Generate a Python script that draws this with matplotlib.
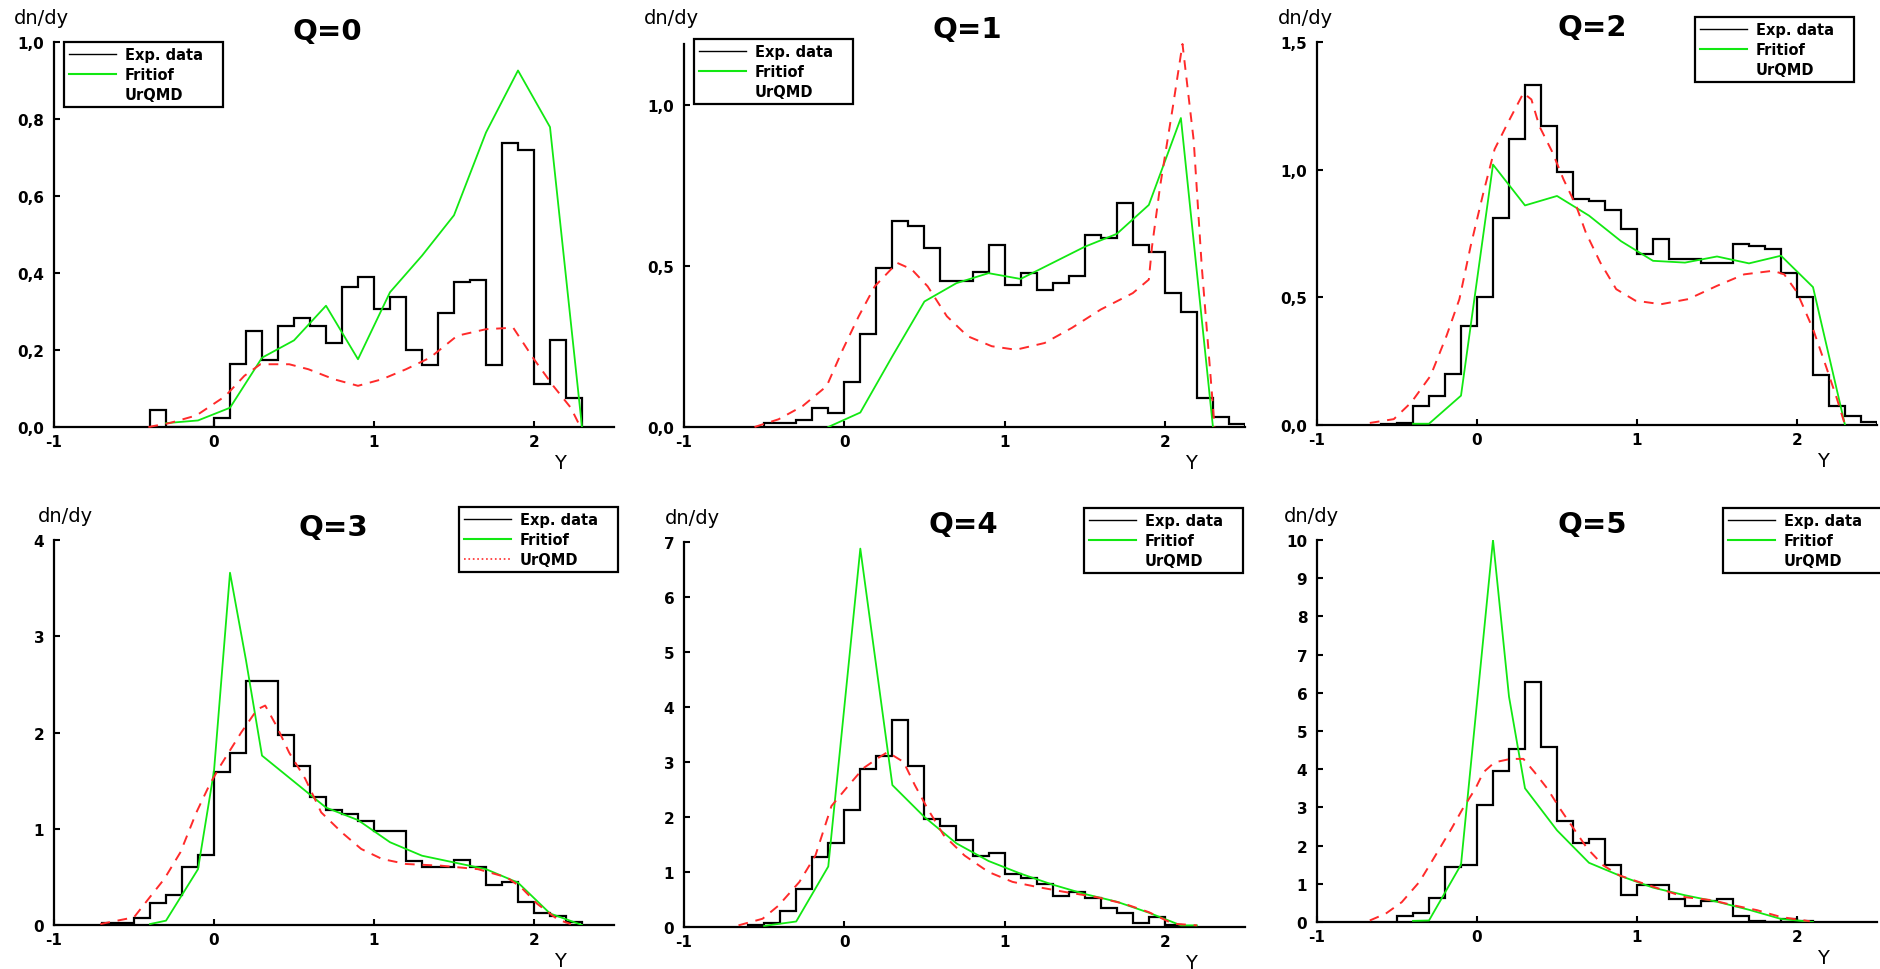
import matplotlib
matplotlib.use('Agg')
import matplotlib.pyplot as plt
from matplotlib.lines import Line2D
from matplotlib.ticker import FuncFormatter
import numpy as np

plt.rcParams['font.family'] = 'DejaVu Sans'
plt.rcParams['axes.unicode_minus'] = False

# ---- values ----
titles = ['Q=0', 'Q=1', 'Q=2', 'Q=3', 'Q=4', 'Q=5']
y_max = [1.0, 1.19, 1.5, 4, 7, 10]
y_ticks = [[0, 0.2, 0.4, 0.6, 0.8, 1.0], [0, 0.5, 1.0], [0, 0.5, 1.0, 1.5],
           [0, 1, 2, 3, 4], [0, 1, 2, 3, 4, 5, 6, 7], [0, 1, 2, 3, 4, 5, 6, 7, 8, 9, 10]]
y_decimals = [1, 1, 1, 0, 0, 0]
x_ticks = [-1, 0, 1, 2]
series_names = ['Exp. data', 'Fritiof', 'UrQMD']

# experimental histograms, bins of 0.1 starting at exp_start
bin_width = 0.1
exp_start = [-0.4, -0.5, -0.6, -0.7, -0.6, -0.5]
exp_q0 = [0.044, 0, 0, 0, 0.024, 0.163, 0.25, 0.174, 0.263, 0.282, 0.263, 0.219, 0.363, 0.389,
          0.306, 0.338, 0.2, 0.161, 0.295, 0.376, 0.382, 0.161, 0.738, 0.72, 0.111, 0.225, 0.076]
exp_q1 = [0.011, 0.011, 0.022, 0.06, 0.044, 0.14, 0.29, 0.494, 0.64, 0.625, 0.556, 0.455, 0.455,
          0.483, 0.566, 0.44, 0.478, 0.425, 0.447, 0.47, 0.597, 0.587, 0.695, 0.566, 0.545, 0.416,
          0.356, 0.089, 0.032, 0.008]
exp_q2 = [0.005, 0.008, 0.076, 0.115, 0.2, 0.389, 0.5, 0.81, 1.12, 1.33, 1.17, 0.99, 0.887, 0.878,
          0.843, 0.767, 0.669, 0.728, 0.652, 0.652, 0.633, 0.633, 0.708, 0.70, 0.69, 0.595, 0.503,
          0.196, 0.076, 0.034, 0.013]
exp_q3 = [0.02, 0.02, 0.07, 0.23, 0.31, 0.6, 0.727, 1.586, 1.79, 2.53, 2.53, 1.97, 1.655, 1.33, 1.2,
          1.15, 1.08, 0.98, 0.98, 0.66, 0.6, 0.6, 0.68, 0.6, 0.415, 0.45, 0.235, 0.125, 0.097, 0.035]
exp_q4 = [0.03, 0.07, 0.3, 0.7, 1.27, 1.53, 2.13, 2.87, 3.11, 3.77, 2.93, 1.97, 1.83, 1.58, 1.3,
          1.35, 0.97, 0.9, 0.79, 0.56, 0.64, 0.52, 0.35, 0.25, 0.07, 0.18, 0.03]
exp_q5 = [0.17, 0.24, 0.64, 1.44, 1.5, 3.07, 3.95, 4.52, 6.29, 4.59, 2.64, 2.07, 2.18, 1.5, 0.7,
          0.98, 0.98, 0.59, 0.42, 0.55, 0.61, 0.17, 0.03, 0.0, 0.09, 0.02]

# Fritiof
frit_x0 = [-0.3, -0.1, 0.1, 0.3, 0.5, 0.7, 0.9, 1.1, 1.3, 1.5, 1.7, 1.9, 2.1, 2.3]
frit_y0 = [0.01, 0.017, 0.05, 0.18, 0.225, 0.315, 0.176, 0.35, 0.445, 0.55, 0.765, 0.926, 0.779, 0.0]
frit_x1 = [-0.1, 0.1, 0.3, 0.5, 0.7, 0.9, 1.1, 1.3, 1.5, 1.7, 1.9, 2.1, 2.3]
frit_y1 = [0.0, 0.045, 0.22, 0.39, 0.447, 0.478, 0.46, 0.51, 0.56, 0.60, 0.69, 0.96, 0.0]
frit_x2 = [-0.4, -0.3, -0.1, 0.1, 0.3, 0.5, 0.7, 0.9, 1.1, 1.3, 1.5, 1.7, 1.9, 2.1, 2.3]
frit_y2 = [0.005, 0.005, 0.115, 1.02, 0.86, 0.897, 0.82, 0.72, 0.643, 0.636, 0.66, 0.633, 0.663, 0.54, 0.0]
frit_x3 = [-0.4, -0.3, -0.1, 0.0, 0.1, 0.2, 0.3, 0.5, 0.7, 0.9, 1.1, 1.3, 1.5, 1.7, 1.9, 2.1, 2.3]
frit_y3 = [0.01, 0.045, 0.58, 1.6, 3.66, 2.75, 1.76, 1.49, 1.22, 1.09, 0.86, 0.72, 0.65, 0.58, 0.44, 0.12, 0.0]
frit_x4 = [-0.5, -0.3, -0.1, 0.1, 0.3, 0.5, 0.7, 0.9, 1.1, 1.3, 1.5, 1.7, 1.9, 2.1, 2.2]
frit_y4 = [0.02, 0.1, 1.1, 6.88, 2.58, 2.0, 1.52, 1.2, 0.97, 0.77, 0.6, 0.46, 0.26, 0.03, 0.03]
frit_x5 = [-0.4, -0.3, -0.1, 0.1, 0.2, 0.3, 0.5, 0.7, 0.9, 1.1, 1.3, 1.5, 1.7, 1.9, 2.1]
frit_y5 = [0.03, 0.04, 1.5, 10.0, 5.9, 3.5, 2.4, 1.55, 1.2, 0.9, 0.7, 0.53, 0.32, 0.08, 0.0]

# UrQMD
urq_x0 = [-0.41, -0.28, -0.11, 0.07, 0.19, 0.29, 0.47, 0.59, 0.75, 0.90, 1.05, 1.20, 1.35, 1.52,
          1.70, 1.87, 2.0, 2.12, 2.23, 2.29]
urq_y0 = [0.0, 0.01, 0.03, 0.08, 0.133, 0.163, 0.163, 0.15, 0.124, 0.107, 0.124, 0.15, 0.18, 0.237,
          0.254, 0.258, 0.176, 0.107, 0.05, 0.0]
urq_x1 = [-0.56, -0.41, -0.26, -0.11, -0.01, 0.09, 0.19, 0.33, 0.42, 0.52, 0.64, 0.77, 0.92, 1.07,
          1.25, 1.42, 1.6, 1.8, 1.9, 1.92, 1.97, 2.05, 2.11, 2.18, 2.23, 2.28, 2.31]
urq_y1 = [0.0, 0.024, 0.065, 0.127, 0.24, 0.344, 0.437, 0.51, 0.49, 0.437, 0.344, 0.282, 0.251, 0.24,
          0.261, 0.308, 0.365, 0.416, 0.458, 0.561, 0.747, 0.995, 1.19, 0.89, 0.5, 0.19, 0.0]
urq_x2 = [-0.67, -0.52, -0.41, -0.29, -0.19, -0.11, -0.04, 0.04, 0.11, 0.19, 0.29, 0.34, 0.39, 0.47,
          0.54, 0.62, 0.68, 0.77, 0.87, 0.99, 1.15, 1.32, 1.5, 1.67, 1.85, 1.92, 2.0, 2.1, 2.18, 2.25, 2.3]
urq_y2 = [0.008, 0.023, 0.089, 0.193, 0.35, 0.493, 0.70, 0.91, 1.08, 1.18, 1.30, 1.275, 1.17, 1.07,
          0.963, 0.858, 0.754, 0.637, 0.532, 0.487, 0.473, 0.493, 0.545, 0.59, 0.604, 0.59, 0.52,
          0.376, 0.232, 0.102, 0.0]
urq_x3 = [-0.71, -0.5, -0.41, -0.31, -0.21, -0.11, -0.03, 0.04, 0.17, 0.27, 0.32, 0.39, 0.47, 0.57,
          0.67, 0.8, 0.92, 1.05, 1.2, 1.42, 1.65, 1.83, 1.92, 2.02, 2.15, 2.23]
urq_y3 = [0.01, 0.08, 0.27, 0.48, 0.755, 1.17, 1.45, 1.655, 2.0, 2.24, 2.28, 2.07, 1.79, 1.52, 1.17,
          0.96, 0.79, 0.686, 0.634, 0.616, 0.58, 0.495, 0.39, 0.22, 0.055, 0.01]
urq_x4 = [-0.66, -0.51, -0.41, -0.28, -0.18, -0.08, 0.02, 0.12, 0.22, 0.27, 0.37, 0.44, 0.52, 0.62,
          0.75, 0.9, 1.05, 1.2, 1.37, 1.57, 1.75, 1.9, 2.05, 2.2]
urq_y4 = [0.03, 0.15, 0.39, 0.82, 1.3, 2.2, 2.55, 2.89, 3.09, 3.18, 3.0, 2.58, 2.15, 1.67, 1.3, 1.0,
          0.82, 0.73, 0.64, 0.545, 0.42, 0.27, 0.06, 0.03]
urq_x5 = [-0.67, -0.57, -0.47, -0.36, -0.26, -0.16, -0.09, -0.01, 0.04, 0.11, 0.21, 0.29, 0.36, 0.44,
          0.52, 0.59, 0.69, 0.79, 0.89, 1.01, 1.14, 1.3, 1.47, 1.6, 1.75, 1.9, 2.08]
urq_y5 = [0.04, 0.22, 0.52, 1.05, 1.74, 2.44, 2.96, 3.49, 3.92, 4.18, 4.27, 4.27, 3.92, 3.49, 2.96,
          2.53, 1.92, 1.48, 1.22, 1.05, 0.87, 0.65, 0.57, 0.44, 0.31, 0.13, 0.02]

exp_vals = [exp_q0, exp_q1, exp_q2, exp_q3, exp_q4, exp_q5]
frit = [(frit_x0, frit_y0), (frit_x1, frit_y1), (frit_x2, frit_y2),
        (frit_x3, frit_y3), (frit_x4, frit_y4), (frit_x5, frit_y5)]
urq = [(urq_x0, urq_y0), (urq_x1, urq_y1), (urq_x2, urq_y2),
       (urq_x3, urq_y3), (urq_x4, urq_y4), (urq_x5, urq_y5)]

# ---- layout (pixels of the 1881x970 image) ----
W, H = 1881, 970
boxes = [(54, 614, 43, 428), (684, 1245, 45, 428), (1317, 1877, 43, 426),
         (54, 614, 541, 926), (684, 1245, 543, 928), (1317, 1877, 541, 923)]
legend_pos = [(64, 43), (694, 40), (1695, 18), (459, 508), (1084, 509), (1723, 509)]
title_pos = [(327, 32), (967, 30), (1592, 28), (333, 528), (963, 525), (1592, 525)]
dndy_pos = [(14, 18), (644, 18), (1278, 18), (38, 517), (665, 519), (1284, 517)]
urq_in_legend = [False, False, False, True, False, False]

GREEN = '#12e812'
RED = '#ff2a2a'

fig = plt.figure(figsize=(W / 100, H / 100), dpi=100)


def fx(px):
    return px / W


def fy(py):
    return 1 - py / H


for i in range(6):
    l, r, t, b = boxes[i]
    ax = fig.add_axes([fx(l), fy(b), (r - l) / W, (b - t) / H])

    vals = exp_vals[i]
    edges = np.round(exp_start[i] + bin_width * np.arange(len(vals) + 1), 3)
    ax.stairs(vals, edges, baseline=0, color='black', lw=1.6, zorder=3)
    ax.plot(frit[i][0], frit[i][1], color=GREEN, lw=1.3, zorder=4)
    ax.plot(urq[i][0], urq[i][1], color=RED, lw=1.4, ls=(0, (5, 4)), zorder=5, clip_on=False)

    ax.set_xlim(-1, 2.5)
    ax.set_ylim(0, y_max[i])
    for s in ['top', 'right']:
        ax.spines[s].set_visible(False)
    for s in ['left', 'bottom']:
        ax.spines[s].set_linewidth(1.6)

    ax.set_xticks(x_ticks)
    ax.set_yticks(y_ticks[i])
    d = y_decimals[i]
    ax.yaxis.set_major_formatter(FuncFormatter(lambda v, p, d=d: f'{v:.{d}f}'.replace('.', ',')))
    ax.tick_params(axis='y', direction='in', length=4, width=1.5, pad=7, labelsize=11)
    ax.tick_params(axis='x', direction='in', length=4, width=1.5, pad=5, labelsize=11)
    for lab in ax.get_xticklabels() + ax.get_yticklabels():
        lab.set_fontweight('bold')

    ax.annotate('Y', xy=(2.16, 0), xycoords=('data', 'axes fraction'), xytext=(0, -19),
                textcoords='offset points', ha='center', va='top', fontsize=14)

    third = Line2D([], [], color=RED, lw=1.2, ls=':') if urq_in_legend[i] else Line2D([], [], color='none')
    handles = [Line2D([], [], color='black', lw=1.0), Line2D([], [], color=GREEN, lw=1.5), third]
    lx, ly = legend_pos[i]
    leg = ax.legend(handles, series_names, loc='upper left',
                    bbox_to_anchor=(fx(lx), fy(ly) - 70 / H, 159 / W, 70 / H),
                    bbox_transform=fig.transFigure, mode='expand', borderaxespad=0,
                    fancybox=False, framealpha=1, edgecolor='black',
                    prop={'size': 10.5, 'weight': 'bold'}, handlelength=3.2,
                    handletextpad=0.6, labelspacing=0.35, borderpad=0.35)
    leg.get_frame().set_linewidth(1.6)

    tx, ty = title_pos[i]
    fig.text(fx(tx), fy(ty), titles[i], ha='center', va='center', fontsize=21, fontweight='bold')
    dx, dy = dndy_pos[i]
    fig.text(fx(dx), fy(dy), 'dn/dy', ha='left', va='center', fontsize=14)

fig.savefig('out.png', dpi=100)
